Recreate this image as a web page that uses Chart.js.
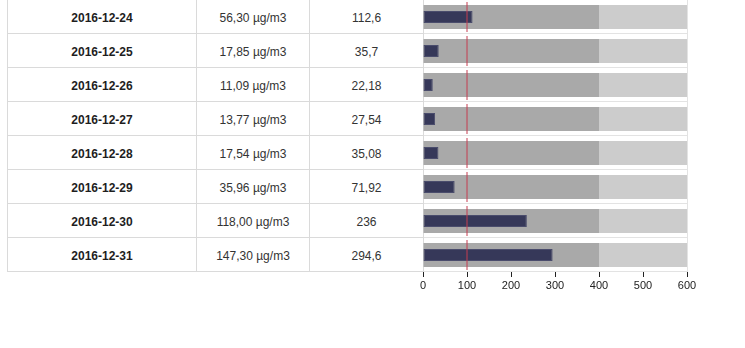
<!DOCTYPE html>
<html>
<head>
<meta charset="utf-8">
<title>PM10 – indeks dzienny</title>
<script src="https://cdn.jsdelivr.net/npm/chart.js@4.4.1/dist/chart.umd.min.js"></script>
<style>
  html, body { margin: 0; padding: 0; background: #fff; overflow: hidden; }
  body { width: 745px; height: 348px; position: relative; font-family: "Liberation Sans", Arial, sans-serif; }
  #grid {
    position: absolute; left: 7px; top: 0;
    display: grid;
    grid-template-columns: 190px 113px 114px 264px;
    grid-auto-rows: 34px;
  }
  #grid div {
    box-sizing: border-box;
    border-right: 1px solid #dadada;
    border-bottom: 1px solid #dadada;
    display: flex; align-items: center; justify-content: center;
    padding-top: 3px;
    font-size: 12px; color: #333;
  }
  #grid div.date { border-left: 1px solid #dadada; font-weight: bold; color: #1e1e1e; }
  #grid div.bullet { border-right-color: #e3e3e3; border-bottom-color: #e3e3e3; }
  #chart { position: absolute; left: 0; top: 0; pointer-events: none; }
</style>
</head>
<body>
<div id="grid"></div>
<canvas id="chart" width="745" height="348"></canvas>
<script>
// Daily PM10 readings and their index value
const dates = ['2016-12-24', '2016-12-25', '2016-12-26', '2016-12-27',
               '2016-12-28', '2016-12-29', '2016-12-30', '2016-12-31'];
const concentration = [56.30, 17.85, 11.09, 13.77, 17.54, 35.96, 118.00, 147.30];
const indexValue = [112.6, 35.7, 22.18, 27.54, 35.08, 71.92, 236, 294.6];
const target = [100, 100, 100, 100, 100, 100, 100, 100];
const rangeGood = [400, 400, 400, 400, 400, 400, 400, 400];
const rangeMax = [600, 600, 600, 600, 600, 600, 600, 600];
const axisTicks = [0, 100, 200, 300, 400, 500, 600];
const unit = 'µg/m3';

const fmt = (v, d) => (d === undefined ? String(v) : v.toFixed(d)).replace('.', ',');

// table cells
const grid = document.getElementById('grid');
dates.forEach((d, i) => {
  const cells = [
    ['date', d],
    ['', fmt(concentration[i], 2) + ' ' + unit],
    ['', fmt(indexValue[i])],
    ['bullet', '']
  ];
  cells.forEach(([cls, txt]) => {
    const el = document.createElement('div');
    if (cls) el.className = cls;
    el.textContent = txt;
    grid.appendChild(el);
  });
});

// bullet chart column
new Chart(document.getElementById('chart'), {
  type: 'bar',
  data: {
    labels: dates,
    datasets: [
      {
        type: 'line',
        label: 'target',
        data: target,
        showLine: false,
        pointStyle: 'line',
        pointRotation: 90,
        pointRadius: 15,
        pointHoverRadius: 15,
        pointBorderWidth: 1,
        pointBorderColor: '#c43c50',
        borderColor: '#c43c50',
        order: 0
      },
      {
        label: 'index',
        data: indexValue,
        backgroundColor: '#363859',
        borderColor: '#4a4c6c',
        borderWidth: 1,
        borderSkipped: false,
        grouped: false,
        barPercentage: 0.36,
        categoryPercentage: 1,
        order: 1
      },
      {
        label: 'good',
        data: rangeGood.map(v => [0, v]),
        backgroundColor: '#a9a9a9',
        borderWidth: 0,
        grouped: false,
        barPercentage: 0.71,
        categoryPercentage: 1,
        order: 2
      },
      {
        label: 'max',
        data: rangeGood.map((v, i) => [v, rangeMax[i]]),
        backgroundColor: '#cccccc',
        borderWidth: 0,
        grouped: false,
        barPercentage: 0.71,
        categoryPercentage: 1,
        order: 3
      }
    ]
  },
  options: {
    indexAxis: 'y',
    responsive: false,
    animation: false,
    events: [],
    layout: { autoPadding: false, padding: { left: 423, right: 58, top: 0, bottom: 0 } },
    plugins: { legend: { display: false }, tooltip: { enabled: false } },
    scales: {
      y: { display: false, offset: true },
      x: {
        min: 0,
        max: 600,
        afterBuildTicks: s => { s.ticks = axisTicks.map(v => ({ value: v })); },
        afterFit: s => { s.height = 76; },
        border: { display: false },
        grid: {
          drawOnChartArea: false,
          drawTicks: true,
          tickLength: 5,
          color: '#222',
          lineWidth: 1
        },
        ticks: {
          color: '#222',
          padding: 2,
          maxRotation: 0,
          font: { family: '"Liberation Sans", Arial, sans-serif', size: 11 }
        }
      }
    }
  }
});
</script>
</body>
</html>
